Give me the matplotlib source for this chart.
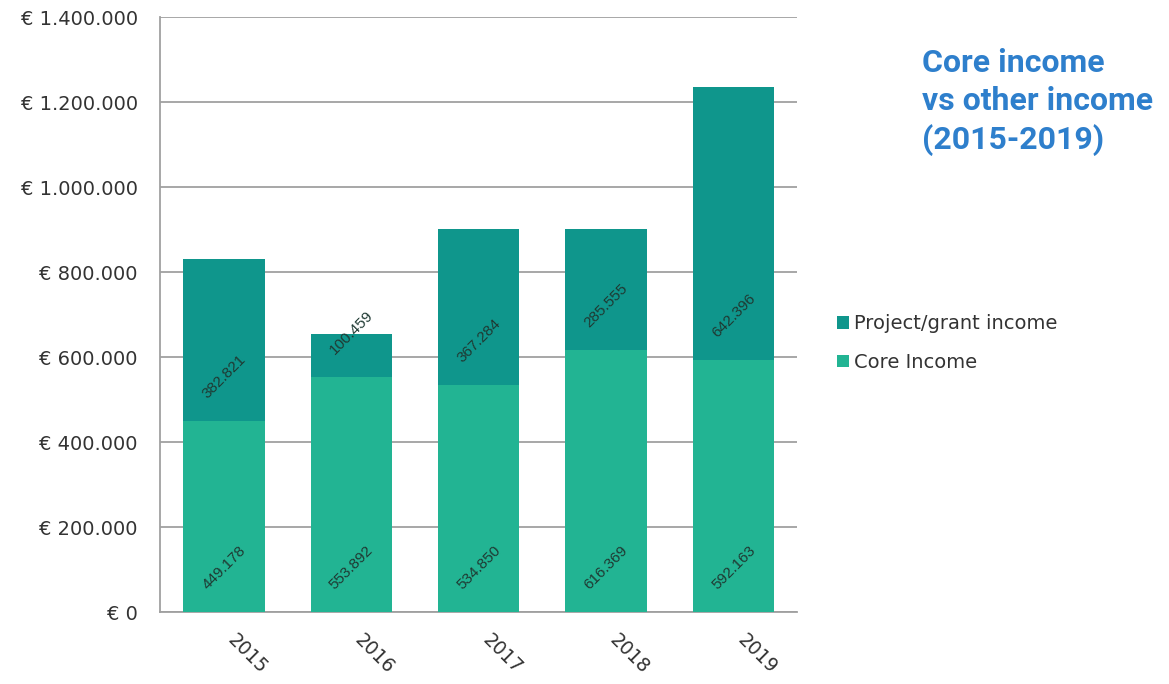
import numpy as np
from matplotlib import pyplot as plt
from matplotlib.ticker import FuncFormatter

years = ['2015', '2016', '2017', '2018', '2019']
core_income = [449178, 553892, 534850, 616369, 592163]
project_income = [382821, 100459, 367284, 285555, 642396]

core_color = '#22b493'
project_color = '#0f968c'
title_color = '#2e7fcc'

plt.rcParams['font.family'] = ['Liberation Sans', 'DejaVu Sans']

fig = plt.figure(figsize=(11.69, 6.84), dpi=100)
ax = fig.add_axes([0.137, 0.105, 0.545, 0.870])

x = np.arange(len(years))
core = np.array(core_income)
proj = np.array(project_income)
ax.bar(x, core, width=0.64, color=core_color, label='Core Income', zorder=3)
ax.bar(x, proj, width=0.64, bottom=core, color=project_color,
       label='Project/grant income', zorder=3)


def fmt_num(v):
    return f'{v:,}'.replace(',', '.')


for i in range(len(years)):
    ax.annotate(fmt_num(core[i]), xy=(x[i], 0), xytext=(0, 32),
                textcoords='offset points', rotation=45, ha='center',
                va='center', fontsize=11, color='#1f3a33', zorder=4)
    ax.annotate(fmt_num(proj[i]), xy=(x[i], core[i]), xytext=(0, 32),
                textcoords='offset points', rotation=45, ha='center',
                va='center', fontsize=11, color='#1f3a33', zorder=4)

ax.set_xlim(-0.5, len(years) - 0.5)
ax.set_ylim(0, 1400000)
ax.set_yticks(np.arange(0, 1400001, 200000))
ax.yaxis.set_major_formatter(FuncFormatter(lambda v, p: '€ ' + fmt_num(int(v))))
ax.grid(axis='y', color='#a0a0a0', linewidth=1.3, zorder=0)
ax.set_xticks(x)
ax.set_xticklabels(years, rotation=-45, ha='left', va='top',
                   family='DejaVu Sans', fontsize=13.5, color='#333333')
for lab in ax.get_yticklabels():
    lab.set_family('DejaVu Sans')
ax.tick_params(axis='y', length=0, pad=16, labelsize=14, labelcolor='#333333')
ax.tick_params(axis='x', length=0, pad=13)
for s in ['top', 'right']:
    ax.spines[s].set_visible(False)
for s in ['left', 'bottom']:
    ax.spines[s].set_color('#a0a0a0')
    ax.spines[s].set_linewidth(1.3)

handles, labels = ax.get_legend_handles_labels()
fig.legend(handles[::-1], labels[::-1], loc='upper left',
           bbox_to_anchor=(0.701, 0.566), frameon=False,
           prop={'family': 'DejaVu Sans', 'size': 14},
           handlelength=0.6, handleheight=0.6, handletextpad=0.3,
           labelspacing=1.0, labelcolor='#333333')

fig.text(0.789, 0.93, 'Core income\nvs other income\n(2015-2019)',
         fontsize=23, fontweight='bold', family='Roboto', color=title_color,
         ha='left', va='top', linespacing=1.33)

fig.savefig('out.png', dpi=100)
